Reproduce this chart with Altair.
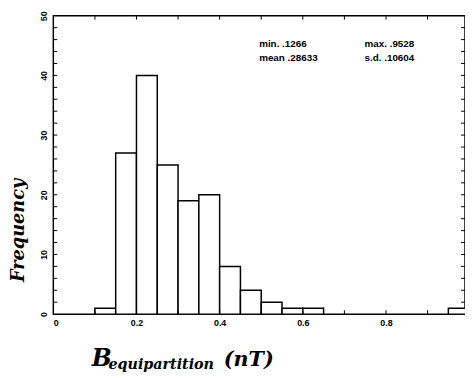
import altair as alt
import pandas as pd

# Histogram data (bin edges, frequencies)
bin_start = [0.10, 0.15, 0.20, 0.25, 0.30, 0.35, 0.40, 0.45, 0.50, 0.55, 0.60, 0.95]
bin_end = [0.15, 0.20, 0.25, 0.30, 0.35, 0.40, 0.45, 0.50, 0.55, 0.60, 0.65, 1.00]
counts = [1, 27, 40, 25, 19, 20, 8, 4, 2, 1, 1, 1]

x_label_values = [0, 0.2, 0.4, 0.6, 0.8]
y_label_values = [0, 10, 20, 30, 40, 50]
x_tick_values = [0.1, 0.2, 0.3, 0.4, 0.5, 0.6, 0.7, 0.8, 0.9]
y_tick_values = [2, 4, 6, 8, 10, 12, 14, 16, 18, 20, 22, 24, 26, 28, 30,
                 32, 34, 36, 38, 40, 42, 44, 46, 48]

stats_left = ["min. .1266", "mean .28633"]
stats_right = ["max. .9528", "s.d. .10604"]

W, H = 418, 303
xs = alt.Scale(domain=[0, 0.99], nice=False, zero=False)
ys = alt.Scale(domain=[0, 50], nice=False)

lab_font = "Liberation Sans"
ttl_font = "DejaVu Serif"

xa = alt.Axis(values=x_label_values, ticks=False, domain=False, grid=False, title=None,
              labelExpr="datum.value == 0 ? '0' : format(datum.value, '.1f')",
              labelFont=lab_font, labelFontSize=9, labelFontWeight="bold",
              labelColor="black", labelPadding=5)
ya = alt.Axis(values=y_label_values, ticks=False, domain=False, grid=False, title=None,
              labelFont=lab_font, labelFontSize=9, labelFontWeight="bold",
              labelColor="black", labelAngle=270, labelAlign="center",
              labelBaseline="bottom", labelPadding=5)

df = pd.DataFrame({"start": bin_start, "end": bin_end, "count": counts})

bars = alt.Chart(df).mark_bar(
    fill="white", stroke="black", strokeWidth=1.5, clip=True
).encode(
    x=alt.X("start:Q", scale=xs, axis=xa),
    x2="end:Q",
    y=alt.Y("count:Q", scale=ys, axis=ya),
    y2=alt.datum(0),
)

ydf = pd.DataFrame({"v": y_tick_values})
xdf = pd.DataFrame({"v": x_tick_values})

left_ticks = alt.Chart(ydf).mark_rule(color="black", strokeWidth=1).encode(
    y=alt.Y("v:Q", scale=ys, axis=ya), x=alt.value(0), x2=alt.value(4))
right_ticks = alt.Chart(ydf).mark_rule(color="black", strokeWidth=1).encode(
    y=alt.Y("v:Q", scale=ys, axis=ya), x=alt.value(W - 4), x2=alt.value(W))
bottom_ticks = alt.Chart(xdf).mark_rule(color="black", strokeWidth=1).encode(
    x=alt.X("v:Q", scale=xs, axis=xa), y=alt.value(H), y2=alt.value(H - 4))
top_ticks = alt.Chart(xdf).mark_rule(color="black", strokeWidth=1).encode(
    x=alt.X("v:Q", scale=xs, axis=xa), y=alt.value(0), y2=alt.value(4))


def txt(s, x, y, size, font, bold=True, italic=False, angle=0, align="left"):
    kw = dict(font=font, fontSize=size, fontWeight="bold" if bold else "normal",
              align=align, baseline="alphabetic", color="black")
    if italic:
        kw["fontStyle"] = "italic"
    if angle:
        kw["angle"] = angle
    return alt.Chart(pd.DataFrame({"t": [s]})).mark_text(**kw).encode(
        text="t:N", x=alt.value(x), y=alt.value(y))


stat_layers = [
    txt(stats_left[0], 209, 32, 10, lab_font),
    txt(stats_left[1], 209, 46, 10, lab_font),
    txt(stats_right[0], 316, 32, 10, lab_font),
    txt(stats_right[1], 316, 46, 10, lab_font),
]

title_layers = [
    txt("B", 39, 356, 24, ttl_font, italic=True),
    txt("equipartition", 56, 359, 14.5, ttl_font, italic=True),
    txt("(nT)", 173, 356, 21, ttl_font, italic=True),
    txt("Frequency", -30, 218, 18, ttl_font, italic=True, angle=270, align="center"),
]

chart = alt.layer(
    bars, left_ticks, right_ticks, bottom_ticks, top_ticks, *stat_layers, *title_layers
).properties(
    width=W, height=H, autosize="none",
    padding={"left": 46, "top": 5, "right": 0, "bottom": 62},
).configure_view(stroke="black", strokeWidth=1.5)

chart.save("out.html", embed_options={"renderer": "svg", "actions": False})
